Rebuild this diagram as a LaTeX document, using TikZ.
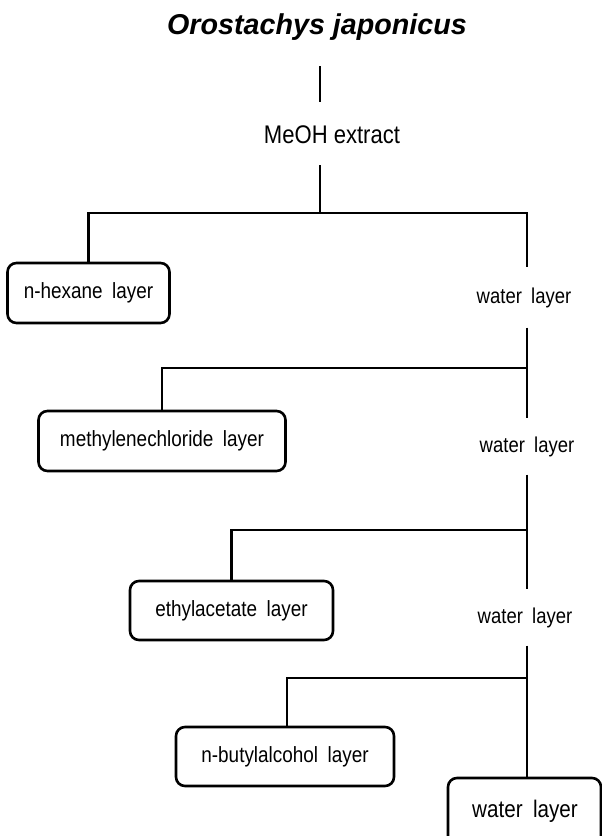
\documentclass[tikz,border=0pt]{standalone}
\usepackage{fontspec}
\setmainfont{Liberation Sans}
\newfontfamily\narrowfont{Liberation Sans}[FakeStretch=0.86,WordSpace=1.8]
\newfontfamily\narrowplain{Liberation Sans}[FakeStretch=0.865]
\begin{document}
\begin{tikzpicture}[x=1pt,y=-1pt,
  conn/.style={line width=2.6pt},
  layerbox/.style={draw,line width=2.6pt,rounded corners=9pt,inner sep=0pt,font=\narrowfont\fontsize{22}{24}\selectfont},
  plain/.style={inner sep=0pt,font=\narrowfont\fontsize{21.5}{24}\selectfont}]
\useasboundingbox (0,0) rectangle (602,836);
\clip (0,0) rectangle (602,836);
% title and MeOH extract
\node (title) at (317,27) {\fontsize{28.7}{32}\selectfont\bfseries\itshape Orostachys japonicus};
\node[plain,font=\narrowplain\fontsize{25.5}{27}\selectfont] (meoh) at (332,135) {MeOH extract};
\coordinate (t1) at (320,66);
\coordinate (t2) at (320,102);
\coordinate (m1) at (320,165);
\coordinate (j0) at (320,213);
\coordinate (mx) at (527,0);
% boxes
\node[layerbox,minimum width=162pt,minimum height=60pt] (hex) at (88.5,293) {n-hexane layer};
\node[layerbox,minimum width=247pt,minimum height=60pt] (meth) at (162,441) {methylenechloride layer};
\node[layerbox,minimum width=203pt,minimum height=59pt] (eth) at (231.5,610.5) {ethylacetate layer};
\node[layerbox,minimum width=218pt,minimum height=59pt] (but) at (285,756.5) {n-butylalcohol layer};
\node[layerbox,minimum width=153pt,minimum height=70pt] (wfin) at (524.5,813) {};
\node[plain,font=\narrowfont\fontsize{24}{26}\selectfont] (wfint) at (525,811) {water layer};
% water layers (plain text)
\node[plain,minimum height=60pt] (w1) at (524,297.5) {water layer};
\node[plain,minimum height=56pt] (w2) at (527,446.5) {water layer};
\node[plain,minimum height=56pt] (w3) at (525,617.5) {water layer};
% junctions on main line
\coordinate (b2) at (527,368);
\coordinate (b3) at (527,530);
\coordinate (b4) at (527,678);
% connectors
\draw[conn] (t1) -- (t2);
\draw[conn] (m1) -- (j0);
\draw[conn] (hex.north) |- (j0) -| (w1.north -| mx);
\draw[conn] (w1.south -| mx) -- (w2.north -| mx);
\draw[conn] (b2) -| (meth.north);
\draw[conn] (w2.south -| mx) -- (w3.north -| mx);
\draw[conn] (b3) -| (eth.north);
\draw[conn] (w3.south -| mx) -- (wfin.north -| mx);
\draw[conn] (b4) -| ([xshift=2pt]but.north);
\end{tikzpicture}
\end{document}
